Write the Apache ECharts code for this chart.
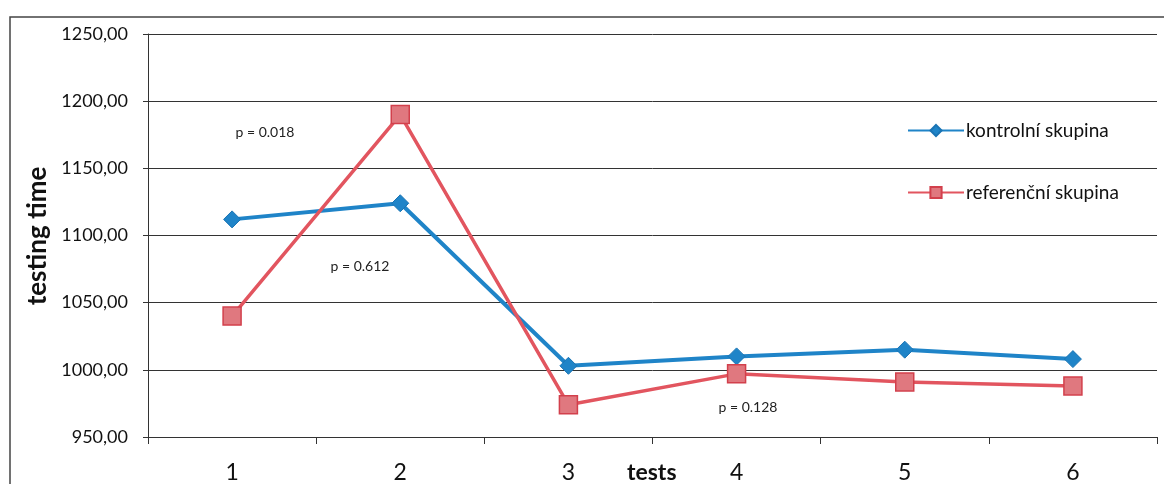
<!DOCTYPE html>
<html>
<head>
<meta charset="utf-8">
<script src="https://cdn.jsdelivr.net/npm/echarts@6/dist/echarts.min.js"></script>
<style>
html,body{margin:0;padding:0;background:#fff;}
#c{width:1164px;height:484px;}
</style>
</head>
<body>
<div id="c"></div>
<script>
var categories = ['1', '2', '3', '4', '5', '6'];
var kontrolni = [1112, 1124, 1003, 1010, 1015, 1008];
var referencni = [1040, 1190, 974, 997, 991, 988];
var seriesNames = ['kontrolní skupina', 'referenční skupina'];
var yTicks = { min: 950, max: 1250, interval: 50 };
var annotations = [
  { text: 'p = 0.018', x: 265, y: 132 },
  { text: 'p = 0.612', x: 360, y: 266 },
  { text: 'p = 0.128', x: 748, y: 407 }
];
var FONT = 'Lato, "Open Sans", sans-serif';

var chart = echarts.init(document.getElementById('c'), null, { renderer: 'canvas' });

var graphics = [
  { type: 'rect', shape: { x: 10, y: 17, width: 1170, height: 480 },
    style: { fill: 'none', stroke: '#444', lineWidth: 1.5 }, z: 0 },
  { type: 'text', x: 38, y: 236, rotation: Math.PI / 2,
    style: { text: 'testing time', font: 'bold 26px ' + FONT, fill: '#111',
      textAlign: 'center', textVerticalAlign: 'middle' } },
  { type: 'text', x: 627, y: 473,
    style: { text: 'tests', font: 'bold 23px ' + FONT, fill: '#111',
      textAlign: 'left', textVerticalAlign: 'middle' } }
];
annotations.forEach(function (a) {
  graphics.push({ type: 'text', x: a.x, y: a.y,
    style: { text: a.text, font: '14px ' + FONT, fill: '#222',
      textAlign: 'center', textVerticalAlign: 'middle' } });
});

chart.setOption({
  animation: false,
  backgroundColor: '#fff',
  grid: { left: 148, right: 7, top: 34, bottom: 46, containLabel: false },
  legend: {
    orient: 'vertical', left: 902, top: 116,
    itemWidth: 56, itemHeight: 14, itemGap: 43,
    textStyle: { fontFamily: FONT, fontSize: 19, color: '#111', padding: [0, 0, 0, -3] },
    data: seriesNames
  },
  xAxis: {
    type: 'category', data: categories, boundaryGap: true,
    axisLine: { lineStyle: { color: '#333', width: 1 } },
    axisTick: { show: true, length: 7, lineStyle: { color: '#333' } },
    axisLabel: { fontFamily: FONT, fontSize: 23, color: '#111', margin: 24 }
  },
  yAxis: {
    type: 'value', min: yTicks.min, max: yTicks.max, interval: yTicks.interval,
    axisLine: { show: true, lineStyle: { color: '#333', width: 1 } },
    axisTick: { show: true, length: 5, lineStyle: { color: '#333' } },
    axisLabel: { fontFamily: FONT, fontSize: 18, color: '#111', margin: 20,
      formatter: function (v) { return v.toFixed(2).replace('.', ','); } },
    splitLine: { lineStyle: { color: '#333', width: 1 } }
  },
  series: [
    { name: seriesNames[0], type: 'line', data: kontrolni,
      symbol: 'diamond', symbolSize: 17,
      lineStyle: { color: '#1f84c8', width: 4 },
      itemStyle: { color: '#1f84c8', borderColor: '#1a74b4', borderWidth: 1 }, z: 3 },
    { name: seriesNames[1], type: 'line', data: referencni,
      symbol: 'rect', symbolSize: 18,
      lineStyle: { color: '#e2555f', width: 3.5 },
      itemStyle: { color: '#e0787f', borderColor: '#d2404c', borderWidth: 1.5 }, z: 4 }
  ],
  graphic: graphics
});
</script>
</body>
</html>
